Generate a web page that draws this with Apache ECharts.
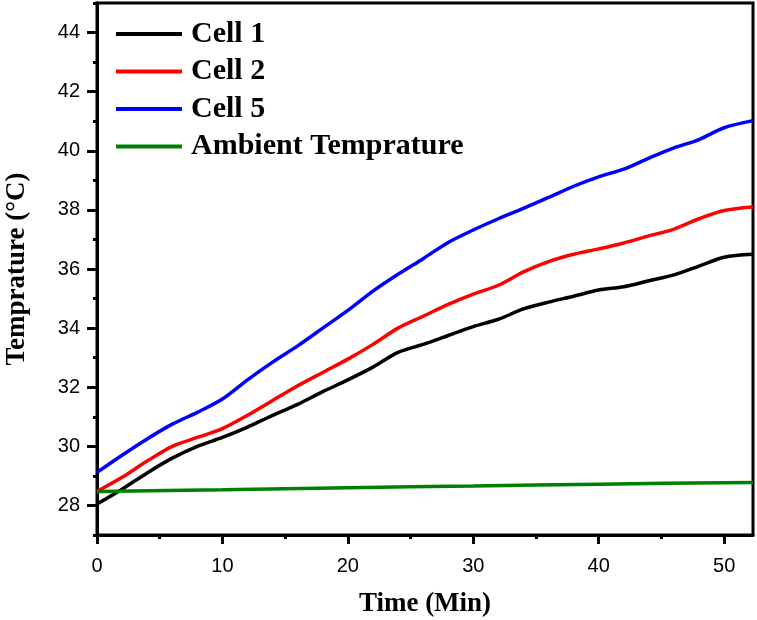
<!DOCTYPE html>
<html>
<head>
<meta charset="utf-8">
<script src="https://cdn.jsdelivr.net/npm/echarts@6/dist/echarts.min.js"></script>
<style>
body { margin: 0; background: #fff; }
#main { width: 757px; height: 620px; }
</style>
</head>
<body>
<div id="main"></div>
<script>
// time in minutes
var time = [0, 2, 4, 6, 8, 10, 12, 14, 16, 18, 20, 22, 24, 26, 28, 30, 32, 34, 36, 38, 40, 42, 44, 46, 48, 50, 52.3];
var cell1 = [28.05, 28.55, 29.1, 29.6, 30.0, 30.3, 30.65, 31.05, 31.42, 31.85, 32.25, 32.68, 33.18, 33.45, 33.75, 34.05, 34.3, 34.65, 34.88, 35.08, 35.29, 35.4, 35.6, 35.8, 36.1, 36.4, 36.5];
var cell2 = [28.47, 28.95, 29.5, 30.0, 30.3, 30.6, 31.05, 31.55, 32.05, 32.5, 32.95, 33.45, 34.0, 34.4, 34.8, 35.15, 35.45, 35.9, 36.25, 36.5, 36.68, 36.88, 37.12, 37.35, 37.7, 37.98, 38.1];
var cell5 = [29.12, 29.7, 30.25, 30.75, 31.15, 31.6, 32.25, 32.85, 33.4, 34.0, 34.6, 35.25, 35.82, 36.35, 36.9, 37.32, 37.7, 38.05, 38.42, 38.8, 39.12, 39.38, 39.75, 40.1, 40.38, 40.78, 41.02];
var ambTime = [0, 10, 20, 30, 40, 52.3];
var ambient = [28.47, 28.53, 28.6, 28.66, 28.72, 28.78];

var xTicks = [0, 10, 20, 30, 40, 50];
var xMinor = [5, 15, 25, 35, 45];
var yTicks = [28, 30, 32, 34, 36, 38, 40, 42, 44];
var yMinor = [27, 29, 31, 33, 35, 37, 39, 41, 43, 45];

function pairs(xs, ys) {
    var out = [];
    for (var i = 0; i < xs.length; i++) {
        out.push([xs[i], ys[i]]);
    }
    return out;
}

var myChart = echarts.init(document.getElementById('main'), null, {renderer: 'canvas'});

var labelFont = {color: '#000', fontFamily: 'Liberation Sans, Arial', fontSize: 20};
var nameFont = {color: '#000', fontFamily: 'Liberation Serif, Times New Roman', fontWeight: 'bold', fontSize: 27};

function lineSeries(name, data, color) {
    return {
        name: name,
        type: 'line',
        data: data,
        smooth: 0.3,
        showSymbol: false,
        symbol: 'none',
        xAxisIndex: 0,
        yAxisIndex: 0,
        lineStyle: {color: color, width: 3.5},
        itemStyle: {color: color}
    };
}

var option = {
    animation: false,
    backgroundColor: '#fff',
    grid: {
        left: 97, right: 4, top: 3, bottom: 85,
        outerBoundsMode: 'none',
        containLabel: false,
        show: true, borderColor: '#000', borderWidth: 3
    },
    legend: {
        left: 111, top: 14,
        orient: 'vertical',
        icon: 'rect',
        itemWidth: 66, itemHeight: 4,
        itemGap: 7.5,
        textStyle: {
            color: '#000', fontFamily: 'Liberation Serif, Times New Roman',
            fontWeight: 'bold', fontSize: 30, lineHeight: 30, padding: [0, 0, 0, 4]
        },
        data: ['Cell 1', 'Cell 2', 'Cell 5', 'Ambient Temprature']
    },
    xAxis: [{
        type: 'value', min: 0, max: 52.3,
        name: 'Time (Min)', nameLocation: 'middle', nameGap: 56,
        nameTextStyle: nameFont,
        axisLine: {show: true, lineStyle: {color: '#000', width: 3}},
        axisTick: {show: true, inside: false, length: 9, customValues: xTicks, lineStyle: {color: '#000', width: 3}},
        axisLabel: Object.assign({margin: 21, customValues: xTicks}, labelFont),
        splitLine: {show: false}
    }, {
        type: 'value', min: 0, max: 52.3, position: 'bottom',
        axisLine: {show: false},
        axisTick: {show: true, inside: false, length: 4, customValues: xMinor, lineStyle: {color: '#000', width: 3}},
        axisLabel: {show: false},
        splitLine: {show: false}
    }],
    yAxis: [{
        type: 'value', min: 27, max: 45,
        name: 'Temprature (°C)', nameLocation: 'middle', nameGap: 66,
        nameTextStyle: nameFont,
        axisLine: {show: true, lineStyle: {color: '#000', width: 3}},
        axisTick: {show: true, inside: false, length: 10, customValues: yTicks, lineStyle: {color: '#000', width: 3}},
        axisLabel: Object.assign({margin: 17, customValues: yTicks}, labelFont),
        splitLine: {show: false}
    }, {
        type: 'value', min: 27, max: 45, position: 'left',
        axisLine: {show: false},
        axisTick: {show: true, inside: false, length: 4, customValues: yMinor, lineStyle: {color: '#000', width: 3}},
        axisLabel: {show: false},
        splitLine: {show: false}
    }],
    series: [
        lineSeries('Cell 1', pairs(time, cell1), '#000000'),
        lineSeries('Cell 2', pairs(time, cell2), '#ff0000'),
        lineSeries('Cell 5', pairs(time, cell5), '#0000ff'),
        lineSeries('Ambient Temprature', pairs(ambTime, ambient), '#008000')
    ]
};

myChart.setOption(option);
</script>
</body>
</html>
